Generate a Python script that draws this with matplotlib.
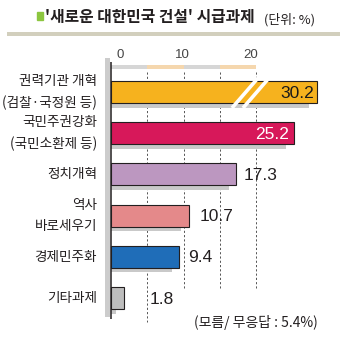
import matplotlib
matplotlib.use("Agg")
import matplotlib.pyplot as plt
from matplotlib.patches import Rectangle
import numpy as np

plt.rcParams['font.family'] = ['Noto Sans CJK KR', 'DejaVu Sans']

# ---- data ----
categories = ["권력기관 개혁\n(검찰·국정원 등)", "국민주권강화\n(국민소환제 등)", "정치개혁",
              "역사\n바로세우기", "경제민주화", "기타과제"]
values = [30.2, 25.2, 17.3, 10.7, 9.4, 1.8]
value_labels = ["30.2", "25.2", "17.3", "10.7", "9.4", "1.8"]
tick_values = [0, 10, 20]
tick_labels = ["0", "10", "20"]
grid_values = [5, 10, 15, 20]
title = "'새로운 대한민국 건설' 시급과제"
unit_text = "(단위: %)"
footnote = "(모름/ 무응답 : 5.4%)"

# ---- styles / layout ----
colors = ["#F6B21E", "#D7185A", "#BC97C0", "#E4898A", "#1F6DB8", "#BDBDBD"]
label_inside = [True, True, False, False, False, False]
label_colors = ["#1A1A1A", "white", "#231F20", "#231F20", "#231F20", "#231F20"]
label_offsets_px = [-3, -5, 7, 11, 9, 26]
BREAK_CUT = 1.8          # axis-break: long bars shortened by this
BREAK_AT = 28.0

W, H = 346, 342
PX = 7.25      # pixels per unit on x
X0 = 111       # pixel of x=0
YSTEP = 41.2   # pixels per category
Y0 = 92        # pixel of first category

def dx(p):
    return (p - X0) / PX

def dy(p):
    return (p - Y0) / YSTEP

fig = plt.figure(figsize=(W / 100, H / 100), dpi=100)
fig.patch.set_facecolor("white")
ax = fig.add_axes([0, 0, 1, 1])
ax.set_xlim(dx(0), dx(W))
ax.set_ylim(dy(H), dy(0))
ax.axis("off")

idx = np.arange(len(values))
vals = np.array(values)
disp = np.where(vals > BREAK_AT, vals - BREAK_CUT, vals)
bh = 22 / YSTEP

# title
ax.add_patch(Rectangle((dx(37), dy(12)), 6.5 / PX, 7.5 / YSTEP, color="#8CC63F", zorder=5, clip_on=False))
ax.text(dx(45), dy(17), title, fontsize=11.4, fontweight="bold", color="#231F20",
        ha="left", va="center")
ax.text(dx(264), dy(19.5), unit_text, fontsize=9.3, color="#231F20", ha="left", va="center")
ax.add_patch(Rectangle((dx(7), dy(32)), 333 / PX, 4 / YSTEP, color="#D2CFBD", lw=0))

# tick labels
tick_off = [9, -1, -5]
for t, lab, o in zip(tick_values, tick_labels, tick_off):
    ax.text(t + o / PX, dy(55), lab, fontsize=9.5, color="#444444", ha="center", va="center",
            family=["Liberation Sans", "DejaVu Sans"])

# scale band
band_cols = ["#D6D6D6", "#F5D7AE", "#D6D6D6", "#F5D7AE"]
ax.barh(dy(67), [5] * 4, left=[0, 5, 10, 15], height=4 / YSTEP, color=band_cols, lw=0, zorder=1)

# gridlines
grid_bottom = [322, 288, 288, 288]
for g, b in zip(grid_values, grid_bottom):
    ax.vlines(g, dy(72), dy(b), color="#555555", lw=0.7, linestyles=(0, (2.2, 2.2)), zorder=1)

# axis
ax.add_patch(Rectangle((dx(105.5), dy(58)), 4.5 / PX, (317 - 58) / YSTEP, color="#CCCCCC", lw=0, zorder=2))
ax.vlines(0, dy(62), dy(319), color="#231F20", lw=1.1, zorder=4)

# shadows and bars
ax.barh(idx + 4.5 / YSTEP, disp - 1.05, height=bh, color="#C9C9C9", lw=0, zorder=2)
ax.barh(idx, disp, height=bh, color=colors, edgecolor="#231F20", lw=0.8, zorder=3)

# break marks on the long bar
for i, (v, d) in enumerate(zip(vals, disp)):
    if v > BREAK_AT:
        for sh in (0, 11):
            xs = [dx(232 + sh), dx(258 + sh)]
            ys = [i + dy(108) - dy(92), i + dy(78) - dy(92)]
            ax.plot(xs, ys, color="white", lw=2.6, solid_capstyle="butt", zorder=3.5)

# value labels
for i, (d, lab, inside, c, o) in enumerate(zip(disp, value_labels, label_inside, label_colors, label_offsets_px)):
    ax.text(d + o / PX, i + 1 / YSTEP, lab, fontsize=12.5, color=c,
            ha="right" if inside else "left", va="center", zorder=6,
            family=["Liberation Sans", "DejaVu Sans"])

# category labels
for i, cat in enumerate(categories):
    ax.text(dx(97), i, cat, fontsize=9.8, color="#231F20", ha="right", va="center",
            multialignment="right", linespacing=1.6)

# footnote
ax.text(dx(318), dy(322), footnote, fontsize=10, color="#231F20", ha="right", va="center")

fig.savefig("out.png", dpi=100, facecolor="white")
